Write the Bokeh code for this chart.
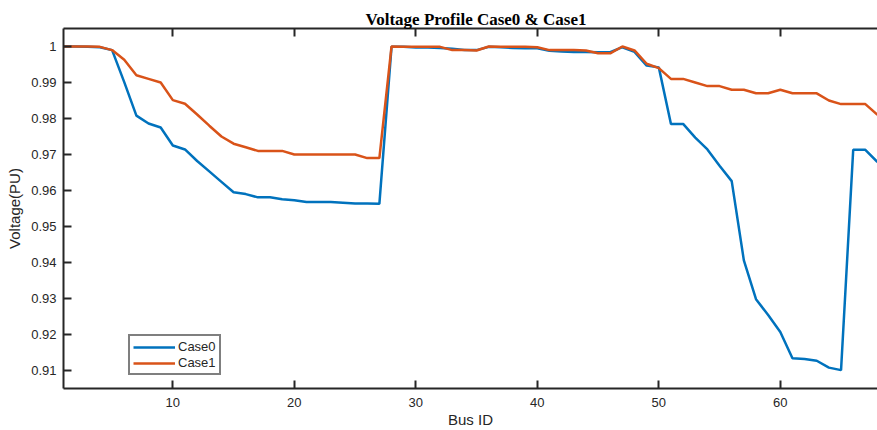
from bokeh.plotting import figure
from bokeh.models import (LinearAxis, FixedTicker, NumeralTickFormatter, Legend,
                          LegendItem, Range1d, ColumnDataSource, CustomJSTickFormatter)
from bokeh.embed import file_html
from bokeh.resources import INLINE

bus = list(range(1, 69))
case0 = [1.0000, 1.0000, 0.9999, 0.9998, 0.9990, 0.9901, 0.9808, 0.9786, 0.9775, 0.9725,
         0.9714, 0.9682, 0.9653, 0.9624, 0.9595, 0.9590, 0.9581, 0.9581, 0.9576, 0.9573,
         0.9568, 0.9568, 0.9568, 0.9566, 0.9564, 0.9564, 0.9563, 0.9999, 0.9999, 0.9997,
         0.9997, 0.9996, 0.9994, 0.9990, 0.9990, 0.9999, 0.9998, 0.9996, 0.9995, 0.9995,
         0.9988, 0.9986, 0.9985, 0.9985, 0.9984, 0.9984, 0.9998, 0.9985, 0.9947, 0.9942,
         0.9785, 0.9785, 0.9747, 0.9714, 0.9669, 0.9626, 0.9406, 0.9298, 0.9254, 0.9207,
         0.9134, 0.9132, 0.9127, 0.9108, 0.9101, 0.9713, 0.9713, 0.9679]
case1 = [1.0000, 1.0000, 1.0000, 0.9999, 0.9990, 0.9963, 0.9920, 0.9910, 0.9900, 0.9851,
         0.9841, 0.9811, 0.9780, 0.9750, 0.9730, 0.9720, 0.9710, 0.9710, 0.9710, 0.9700,
         0.9700, 0.9700, 0.9700, 0.9700, 0.9700, 0.9690, 0.9690, 1.0000, 0.9999, 0.9999,
         0.9999, 0.9999, 0.9990, 0.9990, 0.9989, 1.0000, 0.9999, 0.9999, 0.9999, 0.9998,
         0.9990, 0.9990, 0.9990, 0.9989, 0.9981, 0.9981, 1.0000, 0.9989, 0.9952, 0.9940,
         0.9910, 0.9910, 0.9900, 0.9890, 0.9890, 0.9880, 0.9880, 0.9870, 0.9870, 0.9880,
         0.9870, 0.9870, 0.9870, 0.9850, 0.9840, 0.9840, 0.9840, 0.9810]
x_ticks = [10, 20, 30, 40, 50, 60]
y_ticks = [0.91, 0.92, 0.93, 0.94, 0.95, 0.96, 0.97, 0.98, 0.99, 1.0]
series_names = ["Case0", "Case1"]
colors = ["#0072BD", "#D95319"]

AX = "#262626"
SANS = "Liberation Sans"

p = figure(width=877, height=430, output_backend="svg", toolbar_location=None,
           x_range=Range1d(1, 68), y_range=Range1d(0.905, 1.005),
           x_axis_location=None, y_axis_location=None,
           min_border_left=63, min_border_right=0, min_border_top=28, min_border_bottom=42,
           title="Voltage Profile Case0 & Case1")
p.outline_line_color = None
p.xgrid.visible = False
p.ygrid.visible = False
p.background_fill_color = "white"
p.border_fill_color = "white"

p.title.text_font = "Liberation Serif"
p.title.text_font_style = "bold"
p.title.text_font_size = "17px"
p.title.text_color = "black"
p.title.align = "left"
p.title.offset = 302
p.title.standoff = 0


def style_axis(ax):
    ax.axis_line_color = AX
    ax.axis_line_width = 2
    ax.major_tick_line_color = AX
    ax.major_tick_line_width = 2
    ax.major_tick_in = 8
    ax.major_tick_out = 0
    ax.minor_tick_line_color = None
    ax.major_label_text_font = SANS
    ax.major_label_text_font_size = "13px"
    ax.major_label_text_color = AX
    ax.axis_label_text_font = SANS
    ax.axis_label_text_font_size = "15px"
    ax.axis_label_text_font_style = "normal"
    ax.axis_label_text_color = AX


xb = LinearAxis(ticker=FixedTicker(ticks=x_ticks), axis_label="Bus ID")
style_axis(xb)
xb.major_label_standoff = 9
xb.axis_label_standoff = 1
p.add_layout(xb, "below")

xt = LinearAxis(ticker=FixedTicker(ticks=x_ticks),
                formatter=CustomJSTickFormatter(code="return ''"))
style_axis(xt)
xt.major_label_standoff = 0
p.add_layout(xt, "above")

yl = LinearAxis(ticker=FixedTicker(ticks=y_ticks), axis_label="Voltage(PU)",
                formatter=NumeralTickFormatter(format="0.[00]"))
style_axis(yl)
yl.major_label_standoff = 7
yl.axis_label_standoff = 5
p.add_layout(yl, "left")

src = ColumnDataSource(dict(bus=bus, case0=case0, case1=case1))
r0 = p.line("bus", "case0", source=src, line_color=colors[0], line_width=2.5)
r1 = p.line("bus", "case1", source=src, line_color=colors[1], line_width=2.5)

leg = Legend(items=[LegendItem(label=series_names[0], renderers=[r0]),
                    LegendItem(label=series_names[1], renderers=[r1])],
             location=(65, 13))
leg.border_line_color = "black"
leg.border_line_width = 2
leg.background_fill_color = "white"
leg.background_fill_alpha = 1
leg.label_text_font = SANS
leg.label_text_font_size = "13px"
leg.label_text_color = AX
leg.glyph_width = 42
leg.glyph_height = 14
leg.label_height = 14
leg.label_standoff = 3
leg.padding = 3
leg.spacing = 1
leg.margin = 0
p.add_layout(leg, "center")

open("out.html", "w").write(file_html(p, INLINE))
